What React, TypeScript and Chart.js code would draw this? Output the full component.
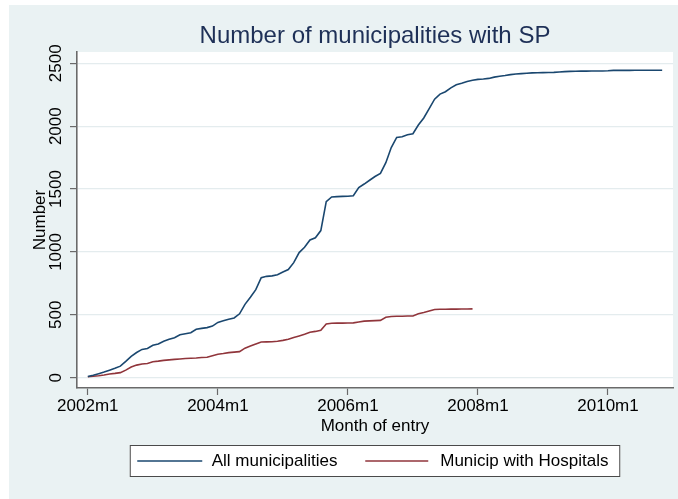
import React, { useEffect, useRef } from "react";
import { Chart, registerables } from "chart.js";

Chart.register(...registerables);

// Months since 2002m1 (index 0 = 2002m1)
const allMunicipalities: number[] = [
  10, 20, 32, 45, 60, 75, 92, 130, 170, 200, 225, 232,
  258, 268, 290, 305, 318, 342, 350, 358, 385, 392, 398, 410,
  440, 452, 465, 475, 508, 583, 640, 700, 795, 806, 810, 818,
  840, 860, 915, 995, 1037, 1095, 1113, 1170, 1400, 1437, 1440, 1442,
  1443, 1447, 1512, 1540, 1570, 1600, 1625, 1710, 1830, 1911, 1916, 1932,
  1940, 2009, 2065, 2140, 2215, 2255, 2274, 2305, 2330, 2341, 2355, 2365,
  2372, 2375, 2380, 2390, 2397, 2403, 2410, 2415, 2418, 2421, 2424, 2425,
  2426, 2427, 2428, 2431, 2434, 2436, 2437, 2438, 2438, 2439, 2439, 2439,
  2441, 2444, 2444, 2444, 2444, 2445, 2445, 2445, 2445, 2445, 2445,
];

const municipWithHospitals: number[] = [
  8, 12, 16, 22, 29, 34, 40, 60, 85, 100, 109, 113,
  127, 132, 138, 142, 146, 149, 152, 155, 157, 160, 162, 175,
  187, 192, 199, 203, 207, 235, 252, 268, 284, 285, 286, 290,
  297, 305, 320, 332, 345, 361, 368, 378, 427, 433, 434, 434,
  435, 436, 443, 450, 452, 454, 456, 480, 487, 488, 489, 490,
  491, 509, 518, 530, 542, 544, 544, 545, 545, 546, 546, 547,
];

const seriesLabels: string[] = ["All municipalities", "Municip with Hospitals"];
const xTickMonths: number[] = [0, 24, 48, 72, 96];
const xTickLabels: string[] = ["2002m1", "2004m1", "2006m1", "2008m1", "2010m1"];
const yTicks: number[] = [0, 500, 1000, 1500, 2000, 2500];

const titleText = "Number of municipalities with SP";
const yTitle = "Number";
const xTitle = "Month of entry";

const FONT = "'Liberation Sans', Arial, Helvetica, sans-serif";
const AXIS_COLOR = "#6a6a6a";

const textPlugin = {
  id: "stataText",
  beforeDraw(chart: any) {
    const { ctx, chartArea } = chart;
    ctx.save();
    ctx.fillStyle = "#ffffff";
    ctx.fillRect(chartArea.left, chartArea.top, chartArea.right - chartArea.left, chartArea.bottom - chartArea.top);
    ctx.restore();
  },
  afterDraw(chart: any) {
    const { ctx, chartArea, scales } = chart;
    const cx = (chartArea.left + chartArea.right) / 2;
    const cy = (chartArea.top + chartArea.bottom) / 2;
    ctx.save();

    // Title
    ctx.fillStyle = "#1e3057";
    ctx.font = `24px ${FONT}`;
    ctx.textAlign = "center";
    ctx.textBaseline = "alphabetic";
    ctx.fillText(titleText, cx, chartArea.top - 9.5);

    // Y tick labels (rotated)
    ctx.fillStyle = "#000000";
    ctx.font = `17px ${FONT}`;
    yTicks.forEach((v) => {
      const y = scales.y.getPixelForValue(v);
      ctx.save();
      ctx.translate(chartArea.left - 21, y);
      ctx.rotate(-Math.PI / 2);
      ctx.textAlign = "center";
      ctx.textBaseline = "middle";
      ctx.fillText(String(v), 0, 0);
      ctx.restore();
    });

    // Y title
    ctx.save();
    ctx.translate(chartArea.left - 37, cy);
    ctx.rotate(-Math.PI / 2);
    ctx.textAlign = "center";
    ctx.textBaseline = "middle";
    ctx.fillText(yTitle, 0, 0);
    ctx.restore();

    // X tick labels
    ctx.textAlign = "center";
    ctx.textBaseline = "middle";
    xTickMonths.forEach((m, i) => {
      const x = scales.x.getPixelForValue(m);
      ctx.fillText(xTickLabels[i], x, chartArea.bottom + 18.5);
    });

    // X title
    ctx.fillText(xTitle, cx, chartArea.bottom + 38);

    // Legend
    const lw = 490.5;
    const lh = 32;
    const lx = cx - lw / 2;
    const ly = chartArea.bottom + 57;
    ctx.fillStyle = "#ffffff";
    ctx.fillRect(lx, ly, lw, lh);
    ctx.strokeStyle = "#4a4a4a";
    ctx.lineWidth = 1;
    ctx.strokeRect(lx + 0.5, ly + 0.5, lw - 1, lh - 1);
    const items = [
      { lineStart: 7.5, lineEnd: 72.5, textX: 82 },
      { lineStart: 235.5, lineEnd: 298.5, textX: 310.5 },
    ];
    items.forEach((it, i) => {
      const ds = chart.data.datasets[i];
      const my = ly + lh / 2;
      ctx.strokeStyle = ds.borderColor;
      ctx.lineWidth = 1.5;
      ctx.beginPath();
      ctx.moveTo(lx + it.lineStart, my);
      ctx.lineTo(lx + it.lineEnd, my);
      ctx.stroke();
      ctx.fillStyle = "#000000";
      ctx.textAlign = "left";
      ctx.textBaseline = "middle";
      ctx.font = `17px ${FONT}`;
      ctx.fillText(ds.label, lx + it.textX, my + 0.5);
    });

    ctx.restore();
  },
};

export default function App() {
  const canvasRef = useRef<HTMLCanvasElement | null>(null);

  useEffect(() => {
    if (!canvasRef.current) return;
    const chart = new Chart(canvasRef.current, {
      type: "line",
      data: {
        datasets: [
          {
            label: seriesLabels[0],
            data: allMunicipalities.map((v, i) => ({ x: i, y: v })),
            borderColor: "#1a476f",
            backgroundColor: "#1a476f",
            borderWidth: 1.6,
            pointRadius: 0,
            tension: 0,
          },
          {
            label: seriesLabels[1],
            data: municipWithHospitals.map((v, i) => ({ x: i, y: v })),
            borderColor: "#90353b",
            backgroundColor: "#90353b",
            borderWidth: 1.6,
            pointRadius: 0,
            tension: 0,
          },
        ],
      },
      options: {
        animation: false,
        responsive: false,
        devicePixelRatio: 1,
        layout: { padding: { top: 47, right: 5, left: 0, bottom: 0 } },
        plugins: {
          legend: { display: false },
          tooltip: { enabled: false },
          title: { display: false },
        },
        scales: {
          x: {
            type: "linear",
            min: -2,
            max: 108,
            afterBuildTicks: (scale: any) => {
              scale.ticks = xTickMonths.map((v) => ({ value: v }));
            },
            afterFit: (scale: any) => {
              scale.height = 111;
            },
            ticks: { display: false },
            grid: {
              drawOnChartArea: false,
              drawTicks: true,
              tickLength: 7,
              tickColor: AXIS_COLOR,
              tickWidth: 1.2,
            },
            border: { color: AXIS_COLOR, width: 1.6 },
          },
          y: {
            type: "linear",
            min: -82,
            max: 2590,
            afterBuildTicks: (scale: any) => {
              scale.ticks = yTicks.map((v) => ({ value: v }));
            },
            afterFit: (scale: any) => {
              scale.width = 68;
            },
            ticks: { display: false },
            grid: {
              color: "#e4ecee",
              lineWidth: 1.2,
              drawTicks: true,
              tickLength: 7,
              tickColor: AXIS_COLOR,
              tickWidth: 1.2,
            },
            border: { color: AXIS_COLOR, width: 1.6 },
          },
        },
      } as any,
      plugins: [textPlugin],
    });
    return () => chart.destroy();
  }, []);

  return (
    <div
      style={{
        position: "absolute",
        left: 9,
        top: 5,
        width: 669,
        height: 494,
        background: "#eaf2f3",
      }}
    >
      <canvas ref={canvasRef} width={669} height={494} style={{ display: "block" }} />
    </div>
  );
}
